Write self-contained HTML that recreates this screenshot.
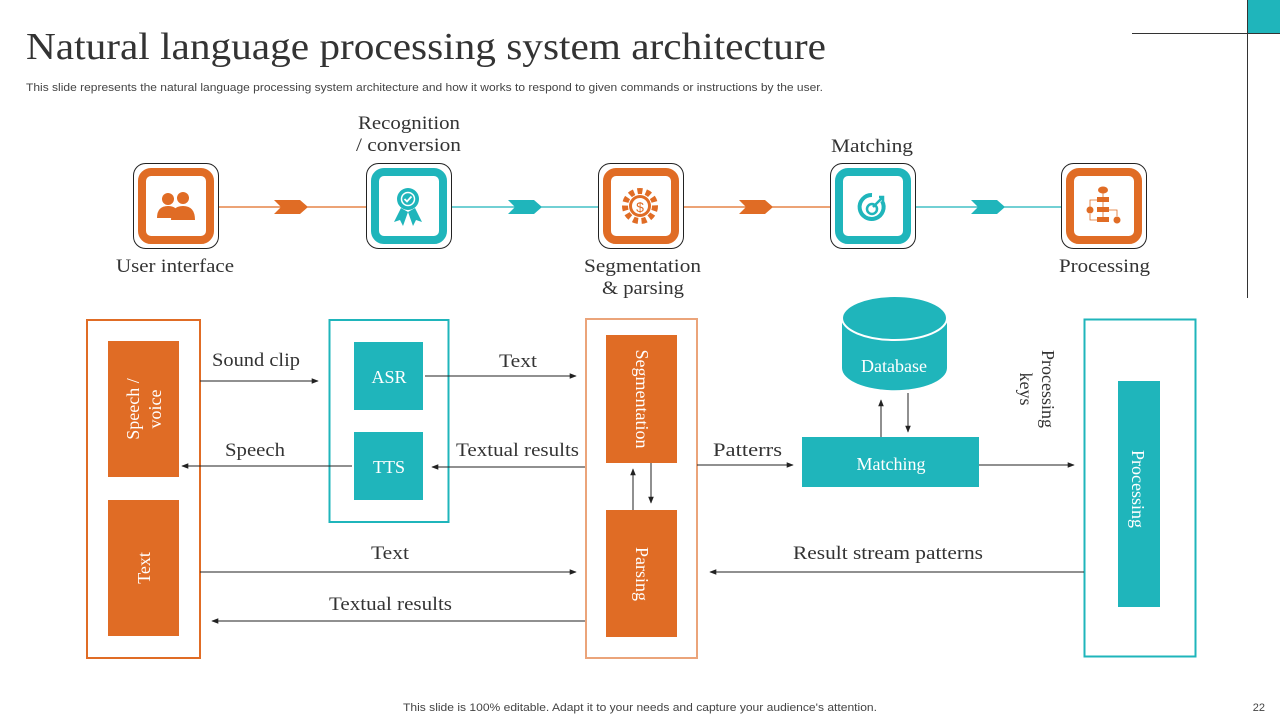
<!DOCTYPE html>
<html><head><meta charset="utf-8"><style>
html,body{margin:0;padding:0;background:#fff;}
svg{display:block}
.s{font-family:"Liberation Serif",serif;fill:#333;}
.a{font-family:"Liberation Sans",sans-serif;fill:#444;}
.w{font-family:"Liberation Serif",serif;fill:#fff;font-size:18px;}
</style></head><body>
<svg width="1280" height="720" viewBox="0 0 1280 720" xmlns="http://www.w3.org/2000/svg">
<defs>
<marker id="ar" viewBox="0 0 10 10" refX="9" refY="5" markerWidth="7" markerHeight="7" orient="auto-start-reverse"><path d="M0,1 L10,5 L0,9 z" fill="#222"/></marker>
</defs>
<rect x="1247" y="0" width="33" height="33" fill="#1FB5BB"/>
<line x1="1132" y1="33.5" x2="1280" y2="33.5" stroke="#333" stroke-width="1"/>
<line x1="1247.5" y1="0" x2="1247.5" y2="298" stroke="#333" stroke-width="1"/>
<text x="26" y="59" class="s" font-size="38" textLength="800" lengthAdjust="spacingAndGlyphs" fill="#222">Natural language processing system architecture</text>
<text x="26" y="91" class="a" font-size="11" textLength="797" lengthAdjust="spacingAndGlyphs">This slide represents the natural language processing system architecture and how it works to respond to given commands or instructions by the user.</text>

<line x1="218" y1="207" x2="366" y2="207" stroke="#E06C25" stroke-width="1.2"/>
<line x1="451" y1="207" x2="598" y2="207" stroke="#1FB5BB" stroke-width="1.2"/>
<line x1="683" y1="207" x2="830" y2="207" stroke="#E06C25" stroke-width="1.2"/>
<line x1="914" y1="207" x2="1062" y2="207" stroke="#1FB5BB" stroke-width="1.2"/>
<path d="M274,200 L300,200 L308,207 L300,214 L274,214 L281,207z" fill="#E06C25"/>
<path d="M508,200 L534,200 L542,207 L534,214 L508,214 L515,207z" fill="#1FB5BB"/>
<path d="M739,200 L765,200 L773,207 L765,214 L739,214 L746,207z" fill="#E06C25"/>
<path d="M971,200 L997,200 L1005,207 L997,214 L971,214 L978,207z" fill="#1FB5BB"/>

<g>
<rect x="133.5" y="163.5" width="85" height="85" rx="12" fill="#fff" stroke="#222" stroke-width="1"/>
<rect x="142" y="172" width="68" height="68" rx="9" fill="#fff" stroke="#E06C25" stroke-width="8"/>
<circle cx="168" cy="199" r="6" fill="#E06C25"/><circle cx="183" cy="198" r="6" fill="#E06C25"/>
<path d="M157,218 q0,-12 11,-12 q9,0 10,8 v4z" fill="#E06C25"/><path d="M171,220 q0,-14 12,-14 q12,0 12,14z" fill="#E06C25"/>
</g>
<g>
<rect x="366.5" y="163.5" width="85" height="85" rx="12" fill="#fff" stroke="#222" stroke-width="1"/>
<rect x="375" y="172" width="68" height="68" rx="9" fill="#fff" stroke="#1FB5BB" stroke-width="8"/>
<path d="M401,208 L394,222 L400,220 L403,226 L408,212z M415,208 L422,222 L416,220 L413,226 L408,212z" fill="#1FB5BB"/>
<circle cx="408" cy="199" r="11" fill="#1FB5BB"/><circle cx="408" cy="199" r="6.5" fill="none" stroke="#fff" stroke-width="1.5"/>
<path d="M404.5,199 l2.5,2.5 l4.5,-5" stroke="#fff" stroke-width="1.8" fill="none"/>
</g>
<g>
<rect x="598.5" y="163.5" width="85" height="85" rx="12" fill="#fff" stroke="#222" stroke-width="1"/>
<rect x="607" y="172" width="68" height="68" rx="9" fill="#fff" stroke="#E06C25" stroke-width="8"/>
<circle cx="640" cy="206" r="15" fill="none" stroke="#E06C25" stroke-width="6" stroke-dasharray="5 3.5"/>
<circle cx="640" cy="206" r="11" fill="#E06C25"/><circle cx="640" cy="206" r="8" fill="#fff"/>
<text x="640" y="212" text-anchor="middle" font-family="Liberation Sans,sans-serif" font-size="14" fill="#E06C25">$</text>
</g>
<g>
<rect x="830.5" y="163.5" width="85" height="85" rx="12" fill="#fff" stroke="#222" stroke-width="1"/>
<rect x="839" y="172" width="68" height="68" rx="9" fill="#fff" stroke="#1FB5BB" stroke-width="8"/>
<path d="M872,195 a12,12 0 1 0 10,6" fill="none" stroke="#1FB5BB" stroke-width="4"/>
<circle cx="872" cy="209" r="5" fill="none" stroke="#1FB5BB" stroke-width="2.5"/>
<path d="M873,207 l10,-10 m-4,0 h4 v4" stroke="#1FB5BB" stroke-width="2.5" fill="none"/>
</g>
<g>
<rect x="1061.5" y="163.5" width="85" height="85" rx="12" fill="#fff" stroke="#222" stroke-width="1"/>
<rect x="1070" y="172" width="68" height="68" rx="9" fill="#fff" stroke="#E06C25" stroke-width="8"/>
<ellipse cx="1103" cy="190" rx="5" ry="3.5" fill="#E06C25"/>
<rect x="1097" y="197" width="12" height="5" fill="#E06C25"/><rect x="1097" y="207" width="12" height="5" fill="#E06C25"/><rect x="1097" y="217" width="12" height="5" fill="#E06C25"/>
<circle cx="1090" cy="210" r="3.5" fill="#E06C25"/><circle cx="1117" cy="220" r="3.5" fill="#E06C25"/>
<path d="M1103,193 v24 M1090,210 v-10 h7 M1090,214 v6 h7 M1109,210 h8 v6" stroke="#E06C25" stroke-width="0.8" fill="none"/>
</g>
<g class="s" font-size="19">
<text x="358" y="129" textLength="102" lengthAdjust="spacingAndGlyphs">Recognition</text><text x="356" y="151" textLength="105" lengthAdjust="spacingAndGlyphs">/ conversion</text>
<text x="831" y="152" textLength="82" lengthAdjust="spacingAndGlyphs">Matching</text>
<text x="116" y="272" textLength="118" lengthAdjust="spacingAndGlyphs">User interface</text>
<text x="584" y="272" textLength="117" lengthAdjust="spacingAndGlyphs">Segmentation</text><text x="602" y="294" textLength="82" lengthAdjust="spacingAndGlyphs">&amp; parsing</text>
<text x="1059" y="272" textLength="91" lengthAdjust="spacingAndGlyphs">Processing</text>
</g>

<rect x="87" y="320" width="113" height="338" fill="none" stroke="#E06C25" stroke-width="2"/>
<rect x="108" y="341" width="71" height="136" fill="#E06C25"/>
<rect x="108" y="500" width="71" height="136" fill="#E06C25"/>
<text class="w" transform="translate(139,409) rotate(-90)" text-anchor="middle">Speech /</text>
<text class="w" transform="translate(161,409) rotate(-90)" text-anchor="middle">voice</text>
<text class="w" transform="translate(150,568) rotate(-90)" text-anchor="middle">Text</text>

<rect x="329.5" y="320" width="119" height="202" fill="none" stroke="#1FB5BB" stroke-width="2"/>
<rect x="354" y="342" width="69" height="68" fill="#1FB5BB"/>
<rect x="354" y="432" width="69" height="68" fill="#1FB5BB"/>
<text class="w" x="389" y="383" text-anchor="middle">ASR</text>
<text class="w" x="389" y="473" text-anchor="middle">TTS</text>

<rect x="586" y="319" width="111" height="339" fill="none" stroke="#EBA47A" stroke-width="2"/>
<rect x="606" y="335" width="71" height="128" fill="#E06C25"/>
<rect x="606" y="510" width="71" height="127" fill="#E06C25"/>
<text class="w" transform="translate(636,399) rotate(90)" text-anchor="middle">Segmentation</text>
<text class="w" transform="translate(636,574) rotate(90)" text-anchor="middle">Parsing</text>

<path d="M842,318 v50 a52,22 0 0 0 105,0 v-50z" fill="#1FB5BB"/>
<ellipse cx="894.5" cy="318" rx="52.5" ry="22" fill="#1FB5BB" stroke="#fff" stroke-width="2"/>
<text class="w" x="894" y="372" text-anchor="middle">Database</text>
<rect x="802" y="437" width="177" height="50" fill="#1FB5BB"/>
<text class="w" x="891" y="470" text-anchor="middle">Matching</text>

<rect x="1084.5" y="319.5" width="111" height="337" fill="none" stroke="#1FB5BB" stroke-width="2"/>
<rect x="1118" y="381" width="42" height="226" fill="#1FB5BB"/>
<text class="w" transform="translate(1132,489) rotate(90)" text-anchor="middle">Processing</text>
<text class="s" font-size="18" transform="translate(1042,389) rotate(90)" text-anchor="middle">Processing</text>
<text class="s" font-size="18" transform="translate(1020,389) rotate(90)" text-anchor="middle">keys</text>

<g stroke="#222" stroke-width="1" marker-end="url(#ar)">
<line x1="200" y1="381" x2="318" y2="381"/>
<line x1="425" y1="376" x2="576" y2="376"/>
<line x1="352" y1="466" x2="182" y2="466"/>
<line x1="585" y1="467" x2="432" y2="467"/>
<line x1="697" y1="465" x2="793" y2="465"/>
<line x1="979" y1="465" x2="1074" y2="465"/>
<line x1="881" y1="437" x2="881" y2="400"/>
<line x1="908" y1="393" x2="908" y2="432"/>
<line x1="633" y1="510" x2="633" y2="469"/>
<line x1="651" y1="463" x2="651" y2="503"/>
<line x1="200" y1="572" x2="576" y2="572"/>
<line x1="585" y1="621" x2="212" y2="621"/>
<line x1="1084" y1="572" x2="710" y2="572"/>
</g>
<g class="s" font-size="19">
<text x="212" y="366" textLength="88" lengthAdjust="spacingAndGlyphs">Sound clip</text>
<text x="499" y="367" textLength="38" lengthAdjust="spacingAndGlyphs">Text</text>
<text x="225" y="456" textLength="60" lengthAdjust="spacingAndGlyphs">Speech</text>
<text x="456" y="456" textLength="123" lengthAdjust="spacingAndGlyphs">Textual results</text>
<text x="713" y="456" textLength="69" lengthAdjust="spacingAndGlyphs">Patterrs</text>
<text x="371" y="559" textLength="38" lengthAdjust="spacingAndGlyphs">Text</text>
<text x="329" y="610" textLength="123" lengthAdjust="spacingAndGlyphs">Textual results</text>
<text x="793" y="559" textLength="190" lengthAdjust="spacingAndGlyphs">Result stream patterns</text>
</g>
<text x="403" y="711" class="a" font-size="11" textLength="474" lengthAdjust="spacingAndGlyphs">This slide is 100% editable. Adapt it to your needs and capture your audience's attention.</text>
<text x="1265" y="711" class="a" font-size="11" text-anchor="end">22</text>
</svg>
</body></html>
